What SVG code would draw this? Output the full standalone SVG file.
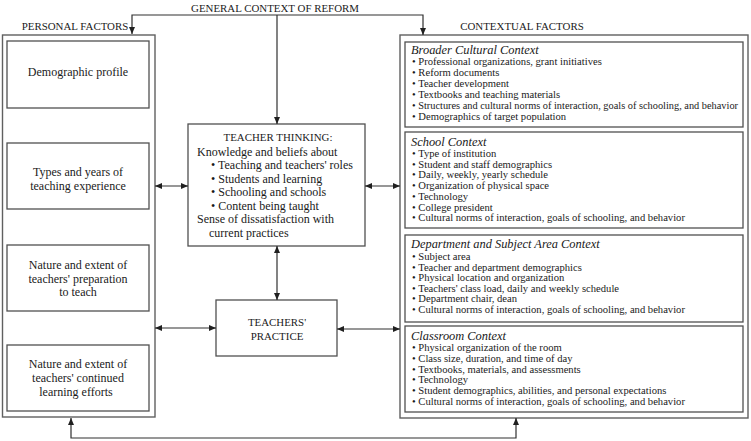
<svg xmlns="http://www.w3.org/2000/svg" width="751" height="441" viewBox="0 0 751 441">
<style>
text{font-family:'Liberation Serif',Tinos,'Times New Roman',Times,'DejaVu Serif',serif;fill:#1a1a1a}
.box{fill:#fff;stroke:#505050;stroke-width:1.3}
.outer{fill:none;stroke:#606060;stroke-width:1.4}
.cap{font-size:10.9px}
.lt{font-size:12px;text-anchor:middle}
.tt{font-size:12px}
.ct{font-size:12.4px;font-style:italic}
.cb{font-size:10.6px}
.c{fill:none;stroke:#303030;stroke-width:1.2}
</style>
<defs>
<marker id="ah" markerUnits="userSpaceOnUse" markerWidth="8" markerHeight="7" refX="7" refY="3" orient="auto-start-reverse">
<path d="M0,0 L7,3 L0,6 z" fill="#202020"/>
</marker>
</defs>
<g id="labels">
<text class="cap" x="275" y="12" text-anchor="middle">GENERAL CONTEXT OF REFORM</text>
<text class="cap" x="75" y="30" text-anchor="middle">PERSONAL FACTORS</text>
<text class="cap" x="522" y="30" text-anchor="middle">CONTEXTUAL FACTORS</text>
</g>
<g id="personal-factors">
<rect class="outer" x="2.5" y="35" width="152.5" height="382"/>
<g id="demographic">
<rect class="box" x="7" y="41" width="142" height="67"/>
<text class="lt" x="78" y="76">Demographic profile</text>
</g>
<g id="experience">
<rect class="box" x="7" y="143" width="142" height="66"/>
<text class="lt" x="78" y="176">Types and years of</text>
<text class="lt" x="78" y="189.5">teaching experience</text>
</g>
<g id="preparation">
<rect class="box" x="7" y="245" width="142" height="66"/>
<text class="lt" x="78" y="269">Nature and extent of</text>
<text class="lt" x="78" y="282.5">teachers' preparation</text>
<text class="lt" x="78" y="296">to teach</text>
</g>
<g id="continued-learning">
<rect class="box" x="7" y="345" width="142" height="66"/>
<text class="lt" x="78" y="368">Nature and extent of</text>
<text class="lt" x="78" y="382">teachers' continued</text>
<text class="lt" x="76" y="396">learning efforts</text>
</g>
</g>
<g id="teacher-thinking">
<rect class="box" x="188" y="124" width="177" height="122"/>
<text class="cap" x="278" y="141" text-anchor="middle">TEACHER THINKING:</text>
<text class="tt" x="197" y="155.5">Knowledge and beliefs about</text>
<text class="tt" x="211" y="169">• Teaching and teachers' roles</text>
<text class="tt" x="211" y="182.5">• Students and learning</text>
<text class="tt" x="211" y="196">• Schooling and schools</text>
<text class="tt" x="211" y="209.5">• Content being taught</text>
<text class="tt" x="197" y="223">Sense of dissatisfaction with</text>
<text class="tt" x="209" y="236.5">current practices</text>
</g>
<g id="teachers-practice">
<rect class="box" x="216" y="300" width="121" height="56"/>
<text class="cap" x="277" y="326" text-anchor="middle">TEACHERS'</text>
<text class="cap" x="277" y="340" text-anchor="middle">PRACTICE</text>
</g>
<g id="contextual-factors">
<rect class="outer" x="400" y="35" width="348" height="383"/>
<g id="broader">
<rect class="box" x="405" y="42" width="338" height="85"/>
<text class="ct" x="411" y="54">Broader Cultural Context</text>
<text class="cb" x="412" y="65">• Professional organizations, grant initiatives</text>
<text class="cb" x="412" y="76">• Reform documents</text>
<text class="cb" x="412" y="87">• Teacher development</text>
<text class="cb" x="412" y="98">• Textbooks and teaching materials</text>
<text class="cb" x="412" y="109" textLength="326" lengthAdjust="spacingAndGlyphs">• Structures and cultural norms of interaction, goals of schooling, and behavior</text>
<text class="cb" x="412" y="120">• Demographics of target population</text>
</g>
<g id="school">
<rect class="box" x="405" y="132" width="338" height="96"/>
<text class="ct" x="411" y="146">School Context</text>
<text class="cb" x="412" y="157">• Type of institution</text>
<text class="cb" x="412" y="167.7">• Student and staff demographics</text>
<text class="cb" x="412" y="178.4">• Daily, weekly, yearly schedule</text>
<text class="cb" x="412" y="189.1">• Organization of physical space</text>
<text class="cb" x="412" y="199.8">• Technology</text>
<text class="cb" x="412" y="210.5">• College president</text>
<text class="cb" x="412" y="221.2">• Cultural norms of interaction, goals of schooling, and behavior</text>
</g>
<g id="department">
<rect class="box" x="405" y="235" width="338" height="87"/>
<text class="ct" x="411" y="248">Department and Subject Area Context</text>
<text class="cb" x="412" y="260">• Subject area</text>
<text class="cb" x="412" y="270.6">• Teacher and department demographics</text>
<text class="cb" x="412" y="281.2">• Physical location and organization</text>
<text class="cb" x="412" y="291.8">• Teachers' class load, daily and weekly schedule</text>
<text class="cb" x="412" y="302.4">• Department chair, dean</text>
<text class="cb" x="412" y="313">• Cultural norms of interaction, goals of schooling, and behavior</text>
</g>
<g id="classroom">
<rect class="box" x="405" y="326" width="338" height="86"/>
<text class="ct" x="411" y="340">Classroom Context</text>
<text class="cb" x="412" y="351">• Physical organization of the room</text>
<text class="cb" x="412" y="361.8">• Class size, duration, and time of day</text>
<text class="cb" x="412" y="372.6">• Textbooks, materials, and assessments</text>
<text class="cb" x="412" y="383.4">• Technology</text>
<text class="cb" x="412" y="394.2">• Student demographics, abilities, and personal expectations</text>
<text class="cb" x="412" y="405">• Cultural norms of interaction, goals of schooling, and behavior</text>
</g>
</g>
<g id="connectors">
<path class="c" d="M132,34 V15 H423 V35" marker-start="url(#ah)" marker-end="url(#ah)"/>
<path class="c" d="M277,15 V124" marker-end="url(#ah)"/>
<path class="c" d="M155,186 H188" marker-start="url(#ah)" marker-end="url(#ah)"/>
<path class="c" d="M365,186 H400" marker-start="url(#ah)" marker-end="url(#ah)"/>
<path class="c" d="M277,246 V300" marker-start="url(#ah)" marker-end="url(#ah)"/>
<path class="c" d="M155,328 H216" marker-start="url(#ah)" marker-end="url(#ah)"/>
<path class="c" d="M337,329 H400" marker-start="url(#ah)" marker-end="url(#ah)"/>
<path class="c" d="M71,418 V438 H516 V418" marker-start="url(#ah)" marker-end="url(#ah)"/>
</g>
</svg>
